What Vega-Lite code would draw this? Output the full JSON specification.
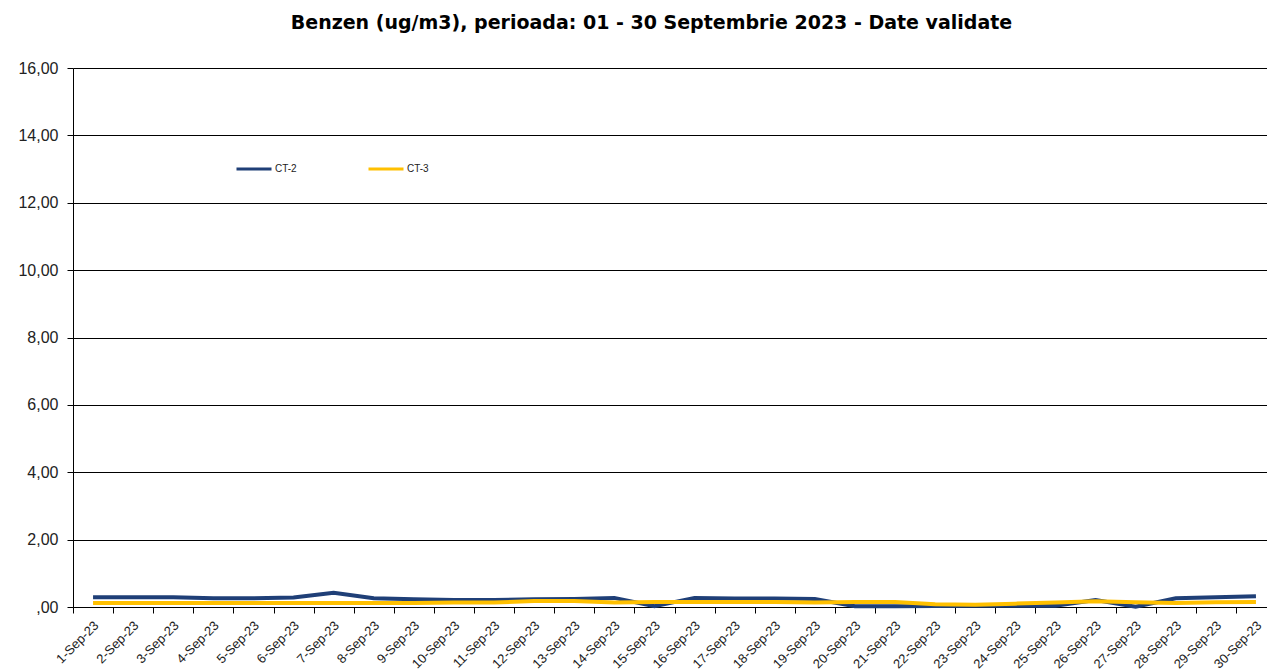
{
  "$schema": "https://vega.github.io/schema/vega-lite/v6.json",
  "width": 1203,
  "height": 539,
  "autosize": {"type": "none"},
  "padding": {"left": 73, "top": 68, "right": 0, "bottom": 63},
  "background": "white",
  "title": {
    "text": "Benzen (ug/m3), perioada: 01 - 30 Septembrie 2023 - Date validate",
    "font": "DejaVu Sans",
    "fontSize": 19,
    "fontWeight": "bold",
    "color": "#000000",
    "anchor": "middle",
    "dx": -23,
    "offset": 27
  },
  "config": {
    "view": {"stroke": null},
    "axis": {"labelFont": "Liberation Sans", "labelColor": "#222222"}
  },
  "data": {
    "values": [
      {"date": "1-Sep-23", "station": "CT-2", "value": 0.29},
      {"date": "2-Sep-23", "station": "CT-2", "value": 0.29},
      {"date": "3-Sep-23", "station": "CT-2", "value": 0.29},
      {"date": "4-Sep-23", "station": "CT-2", "value": 0.26},
      {"date": "5-Sep-23", "station": "CT-2", "value": 0.26},
      {"date": "6-Sep-23", "station": "CT-2", "value": 0.28},
      {"date": "7-Sep-23", "station": "CT-2", "value": 0.42},
      {"date": "8-Sep-23", "station": "CT-2", "value": 0.26},
      {"date": "9-Sep-23", "station": "CT-2", "value": 0.23},
      {"date": "10-Sep-23", "station": "CT-2", "value": 0.21},
      {"date": "11-Sep-23", "station": "CT-2", "value": 0.21},
      {"date": "12-Sep-23", "station": "CT-2", "value": 0.23},
      {"date": "13-Sep-23", "station": "CT-2", "value": 0.24},
      {"date": "14-Sep-23", "station": "CT-2", "value": 0.27},
      {"date": "15-Sep-23", "station": "CT-2", "value": 0.02},
      {"date": "16-Sep-23", "station": "CT-2", "value": 0.27},
      {"date": "17-Sep-23", "station": "CT-2", "value": 0.25},
      {"date": "18-Sep-23", "station": "CT-2", "value": 0.25},
      {"date": "19-Sep-23", "station": "CT-2", "value": 0.24},
      {"date": "20-Sep-23", "station": "CT-2", "value": 0.02},
      {"date": "21-Sep-23", "station": "CT-2", "value": 0.02},
      {"date": "22-Sep-23", "station": "CT-2", "value": 0.03},
      {"date": "23-Sep-23", "station": "CT-2", "value": 0.04},
      {"date": "24-Sep-23", "station": "CT-2", "value": 0.04},
      {"date": "25-Sep-23", "station": "CT-2", "value": 0.04},
      {"date": "26-Sep-23", "station": "CT-2", "value": 0.21},
      {"date": "27-Sep-23", "station": "CT-2", "value": 0.01},
      {"date": "28-Sep-23", "station": "CT-2", "value": 0.26},
      {"date": "29-Sep-23", "station": "CT-2", "value": 0.29},
      {"date": "30-Sep-23", "station": "CT-2", "value": 0.32},
      {"date": "1-Sep-23", "station": "CT-3", "value": 0.12},
      {"date": "2-Sep-23", "station": "CT-3", "value": 0.12},
      {"date": "3-Sep-23", "station": "CT-3", "value": 0.12},
      {"date": "4-Sep-23", "station": "CT-3", "value": 0.12},
      {"date": "5-Sep-23", "station": "CT-3", "value": 0.12},
      {"date": "6-Sep-23", "station": "CT-3", "value": 0.12},
      {"date": "7-Sep-23", "station": "CT-3", "value": 0.12},
      {"date": "8-Sep-23", "station": "CT-3", "value": 0.12},
      {"date": "9-Sep-23", "station": "CT-3", "value": 0.12},
      {"date": "10-Sep-23", "station": "CT-3", "value": 0.13},
      {"date": "11-Sep-23", "station": "CT-3", "value": 0.13},
      {"date": "12-Sep-23", "station": "CT-3", "value": 0.18},
      {"date": "13-Sep-23", "station": "CT-3", "value": 0.18},
      {"date": "14-Sep-23", "station": "CT-3", "value": 0.13},
      {"date": "15-Sep-23", "station": "CT-3", "value": 0.15},
      {"date": "16-Sep-23", "station": "CT-3", "value": 0.15},
      {"date": "17-Sep-23", "station": "CT-3", "value": 0.15},
      {"date": "18-Sep-23", "station": "CT-3", "value": 0.15},
      {"date": "19-Sep-23", "station": "CT-3", "value": 0.13},
      {"date": "20-Sep-23", "station": "CT-3", "value": 0.15},
      {"date": "21-Sep-23", "station": "CT-3", "value": 0.15},
      {"date": "22-Sep-23", "station": "CT-3", "value": 0.08},
      {"date": "23-Sep-23", "station": "CT-3", "value": 0.07},
      {"date": "24-Sep-23", "station": "CT-3", "value": 0.10},
      {"date": "25-Sep-23", "station": "CT-3", "value": 0.13},
      {"date": "26-Sep-23", "station": "CT-3", "value": 0.17},
      {"date": "27-Sep-23", "station": "CT-3", "value": 0.14},
      {"date": "28-Sep-23", "station": "CT-3", "value": 0.12},
      {"date": "29-Sep-23", "station": "CT-3", "value": 0.14},
      {"date": "30-Sep-23", "station": "CT-3", "value": 0.15}
    ]
  },
  "mark": {"type": "line", "strokeWidth": 4, "interpolate": "linear"},
  "encoding": {
    "x": {
      "field": "date",
      "type": "ordinal",
      "sort": null,
      "bandPosition": 0.5,
      "scale": {"type": "band", "paddingInner": 0, "paddingOuter": 0},
      "axis": {
        "title": null,
        "labelAngle": -45,
        "labelAlign": "right",
        "labelBaseline": "middle",
        "labelFontSize": 13,
        "labelPadding": 10,
        "labelOffset": 3,
        "tickBand": "extent",
        "ticks": true,
        "tickSize": 6,
        "tickColor": "#000000",
        "domainColor": "#000000",
        "domainWidth": 1,
        "grid": false
      }
    },
    "y": {
      "field": "value",
      "type": "quantitative",
      "scale": {"domain": [0, 16], "nice": false},
      "axis": {
        "title": null,
        "values": [0, 2, 4, 6, 8, 10, 12, 14, 16],
        "labelExpr": "datum.value == 0 ? ',00' : replace(format(datum.value, '.2f'), '.', ',')",
        "labelFontSize": 16,
        "labelPadding": 9,
        "tickSize": 6,
        "tickColor": "#000000",
        "domainColor": "#000000",
        "grid": true,
        "gridColor": "#000000",
        "gridWidth": 1,
        "gridOpacity": 1
      }
    },
    "color": {
      "field": "station",
      "type": "nominal",
      "scale": {"domain": ["CT-2", "CT-3"], "range": ["#1F3F77", "#FFC000"]},
      "legend": {
        "title": null,
        "orient": "none",
        "legendX": 162,
        "legendY": 82,
        "direction": "horizontal",
        "symbolType": "stroke",
        "symbolSize": 1225,
        "symbolStrokeWidth": 3,
        "labelFont": "Liberation Sans",
        "labelFontSize": 10,
        "labelColor": "#222222",
        "labelOffset": 2,
        "columnPadding": 65,
        "padding": 0
      }
    },
    "order": {"field": "station"}
  }
}
